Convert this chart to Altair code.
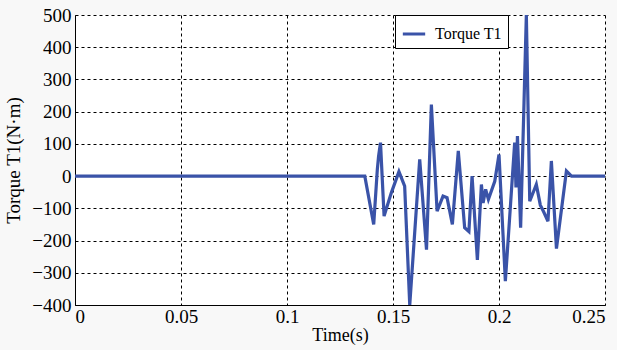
import altair as alt
import pandas as pd

time_s = [0.0, 0.1367, 0.1409, 0.1426, 0.1432, 0.1441, 0.1458, 0.1492, 0.1528, 0.1555,
          0.1579, 0.1626, 0.1658, 0.1681, 0.1708, 0.1736, 0.1755, 0.1780, 0.1808, 0.1838,
          0.1858, 0.1873, 0.1898, 0.1917, 0.1925, 0.1937, 0.1950, 0.1980, 0.2000, 0.2030,
          0.2074, 0.2080, 0.2087, 0.2102, 0.2118, 0.2129, 0.2145, 0.2176, 0.2195, 0.2210,
          0.2231, 0.2247, 0.2271, 0.2318, 0.2342, 0.25]
torque = [0, 0, -150, 20, 62, 104, -124, -52, 14, -31,
          -400, 52, -228, 222, -109, -62, -67, -150, 78, -160,
          -172, 0, -260, -26, -83, -41, -72, -16, 67, -326,
          104, -35, 124, -160, 228, 500, -78, -26, -90, -110,
          -140, 47, -225, 16, 0, 0]
series = ["Torque T1"] * len(time_s)

x_ticks = [0, 0.05, 0.1, 0.15, 0.2, 0.25]
y_ticks = [-400, -300, -200, -100, 0, 100, 200, 300, 400, 500]

df = pd.DataFrame({"t": time_s, "v": torque, "s": series, "order": list(range(len(time_s)))})

FONT = "Liberation Serif"

chart = alt.Chart(df).mark_line(strokeWidth=3.2, clip=True).encode(
    x=alt.X("t:Q", scale=alt.Scale(domain=[0, 0.25], nice=False),
            axis=alt.Axis(values=x_ticks, title="Time(s)", format="~g",
                          grid=True, gridColor="black", gridDash=[3, 3], gridWidth=1,
                          domainColor="black", ticks=False,
                          labelFont=FONT, labelFontSize=19, labelColor="black", labelPadding=2,
                          titleFont=FONT, titleFontSize=18, titleFontWeight="normal", titleColor="black",
                          titlePadding=0)),
    y=alt.Y("v:Q", scale=alt.Scale(domain=[-400, 500], nice=False),
            axis=alt.Axis(values=y_ticks, title="Torque T1(N·m)", format="d",
                          grid=True, gridColor="black", gridDash=[3, 3], gridWidth=1,
                          domainColor="black", ticks=False,
                          labelFont=FONT, labelFontSize=19, labelColor="black", labelPadding=4,
                          titleFont=FONT, titleFontSize=19, titleFontWeight="normal", titleColor="black",
                          titlePadding=8)),
    color=alt.Color("s:N", scale=alt.Scale(domain=["Torque T1"], range=["#3A53A8"]),
                    legend=alt.Legend(title=None, orient="none", legendX=320, legendY=0,
                                      direction="vertical", symbolType="stroke", symbolStrokeWidth=3,
                                      symbolSize=500, labelFont=FONT, labelFontSize=16,
                                      labelColor="black",
                                      strokeColor="black", fillColor="white", padding=6,
                                      labelOffset=8, labelLimit=200)),
    order="order:Q",
).properties(
    width=530, height=290,
    autosize=alt.AutoSizeParams(type="none"),
    padding={"left": 75, "top": 15, "right": 12, "bottom": 45},
    background="#f8f8f8",
).configure(
    font=FONT,
).configure_view(
    fill="white", strokeWidth=0,
)

chart.save("out.html", embed_options={"renderer": "svg", "actions": False})
